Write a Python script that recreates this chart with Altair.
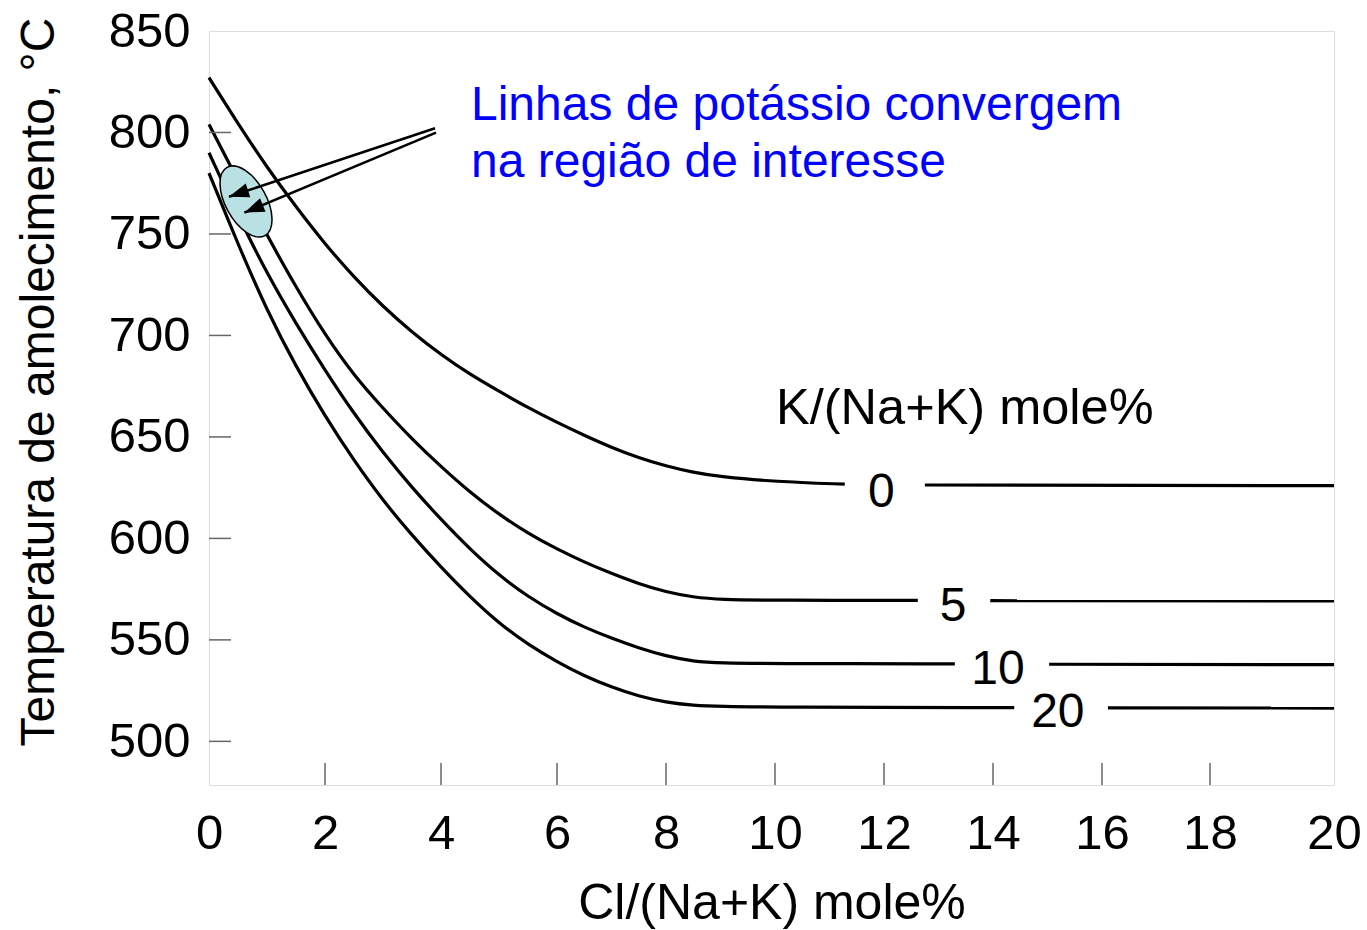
import altair as alt
import pandas as pd

# ---- data ----
x_grid = [0, 0.5, 1, 1.5, 2, 2.5, 3, 3.5, 4, 4.5, 5, 5.5, 6, 6.5, 7, 7.5, 8, 8.5, 9, 10]

k0 = [827, 804.3, 782.8, 763.3, 745.0, 728.7, 714.2, 701.6, 690.5, 680.8, 672.5, 664.4, 657.1, 650.8,
      644.8, 639.7, 635.6, 632.5, 630.3, 628]
k5 = [804, 776.2, 749.4, 723.7, 700.3, 680.2, 664.1, 648.9, 635.3, 622.7, 611.8, 602.5, 594.7, 588.3,
      582.7, 577.6, 573.6, 571.0, 569.8, 569.5]
k10 = [790, 759.1, 730.4, 705.8, 682.8, 661.4, 642.2, 625.0, 609.3, 594.7, 581.8, 571.3, 562.8, 556.2,
       550.8, 546.0, 542.0, 539.4, 538.6, 538.3]
k20 = [780, 744.9, 712.2, 684.6, 660.2, 638.3, 618.6, 601.5, 585.8, 571.2, 558.2, 547.7, 539.2, 532.2,
       526.7, 522.2, 519.2, 517.7, 517.2, 516.8]

series_names = ["0", "5", "10", "20"]
series_values = [k0, k5, k10, k20]
# flat tails: where the line stops before its label, where it resumes, value at x=20
gap_start_x = [11.28, 12.62, 13.30, 14.39]
gap_start_y = [626.7, 569.5, 538.2, 516.6]
gap_end_x = [12.75, 13.95, 15.03, 16.11]
gap_end_y = [626.3, 569.3, 538.0, 516.5]
end_y = [626.0, 569.2, 537.8, 516.4]

label_x = [11.95, 13.27, 14.09, 15.19]
label_y = [615.7, 559.2, 528.1, 507.0]

x_labels = [0, 2, 4, 6, 8, 10, 12, 14, 16, 18, 20]
y_labels = [500, 550, 600, 650, 700, 750, 800, 850]
x_ticks = [2, 4, 6, 8, 10, 12, 14, 16, 18]
y_ticks = [500, 550, 600, 650, 700, 750, 800]

# annotation (ellipse, arrows, notes)
ellipse_x, ellipse_y = [0.638], [766.0]
arrow_x1 = [3.897, 3.914]
arrow_y1 = [802.06, 799.89]
arrow_x2 = [0.345, 0.609]
arrow_y2 = [768.36, 760.48]
arrow_angle = [161.6, 157.4]

note_lines = ["Linhas de potássio convergem", "na região de interesse"]
note_x = [4.517, 4.517]
note_y = [806.2, 778.1]

legend_title = ["K/(Na+K) mole%"]
legend_x = [10.02]
legend_y = [656.6]

# ---- build tables ----
rows = []
for i, name in enumerate(series_names):
    for xv, yv in zip(x_grid, series_values[i]):
        rows.append({"x": xv, "y": yv, "key": name + "_a"})
    rows.append({"x": gap_start_x[i], "y": gap_start_y[i], "key": name + "_a"})
    rows.append({"x": gap_end_x[i], "y": gap_end_y[i], "key": name + "_b"})
    rows.append({"x": 20, "y": end_y[i], "key": name + "_b"})
lines_df = pd.DataFrame(rows)

FONT = "Liberation Sans"
W, H = 1125, 754

# the reference's x axis is drawn with slightly uneven tick spacing
xscale = alt.Scale(
    domain=x_labels,
    range=[0, 116, 232, 348, 457, 566, 675, 784, 893, 1001, 1125],
    nice=False, zero=False,
)
yscale = alt.Scale(domain=[478.5, 850], nice=False, zero=False)

xaxis = alt.Axis(
    values=x_labels, ticks=False, tickSize=0, domain=False, grid=False,
    labelFontSize=49, labelFont=FONT, labelColor="black", labelPadding=24, labelOverlap=False,
    labelFlush=False, title="Cl/(Na+K) mole%", titleFontSize=50, titleFont=FONT, titleColor="black",
    titleFontWeight="normal", titleX=562.5, titleY=133, titleBaseline="alphabetic", titleAlign="center",
)
yaxis = alt.Axis(
    values=y_labels, ticks=False, tickSize=0, domain=False, grid=False,
    labelFontSize=49, labelFont=FONT, labelColor="black", labelPadding=19, labelOverlap=False,
    labelFlush=False, title="Temperatura de amolecimento, °C", titleFontSize=48, titleFont=FONT,
    titleColor="black", titleFontWeight="normal", titleAngle=270, titleX=-156, titleY=350.5,
    titleBaseline="alphabetic", titleAlign="center",
)


def X(field):
    return alt.X(field, type="quantitative", scale=xscale, axis=xaxis)


def Y(field):
    return alt.Y(field, type="quantitative", scale=yscale, axis=yaxis)


lines = alt.Chart(lines_df).mark_line(color="black", strokeWidth=3.2, interpolate="basis").encode(
    x=X("x"), y=Y("y"), detail="key:N", order="x:Q",
)

xt = alt.Chart(pd.DataFrame({"x": x_ticks})).mark_rule(color="#666666", strokeWidth=1.5).encode(
    x=X("x"), y=alt.value(H), y2=alt.value(H - 22)
)
yt = alt.Chart(pd.DataFrame({"y": y_ticks})).mark_rule(color="#666666", strokeWidth=1.5).encode(
    y=Y("y"), x=alt.value(0), x2=alt.value(22)
)

ellipse_path = "M0,-1 A0.523,1 0 1,1 0,1 A0.523,1 0 1,1 0,-1 Z"
ellipse = alt.Chart(pd.DataFrame({"x": ellipse_x, "y": ellipse_y})).mark_point(
    shape=ellipse_path, size=6084, angle=331, filled=True, fill="#b9e0e3", stroke="black",
    strokeWidth=1.5, opacity=1, fillOpacity=1, strokeOpacity=1,
).encode(x=X("x"), y=Y("y"))

arrows_df = pd.DataFrame({"x": arrow_x1, "y": arrow_y1, "x2": arrow_x2, "y2": arrow_y2, "ang": arrow_angle})
arrow_lines = alt.Chart(arrows_df).mark_rule(color="black", strokeWidth=2.5).encode(
    x=X("x"), y=Y("y"), x2="x2:Q", y2="y2:Q",
)
head_path = "M0,0 L-1,-0.36 L-1,0.36 Z"
arrow_heads = alt.Chart(arrows_df).mark_point(
    shape=head_path, size=1600, filled=True, color="black", opacity=1, strokeWidth=0,
).encode(
    x=X("x2"), y=Y("y2"), angle=alt.Angle("ang:Q", scale=None),
)

notes = alt.Chart(pd.DataFrame({"x": note_x, "y": note_y, "t": note_lines})).mark_text(
    align="left", baseline="alphabetic", fontSize=48, font=FONT, color="#0000ff",
).encode(x=X("x"), y=Y("y"), text="t:N")

legend_txt = alt.Chart(pd.DataFrame({"x": legend_x, "y": legend_y, "t": legend_title})).mark_text(
    align="left", baseline="alphabetic", fontSize=50.5, font=FONT, color="black",
).encode(x=X("x"), y=Y("y"), text="t:N")

labels = alt.Chart(pd.DataFrame({"x": label_x, "y": label_y, "t": series_names})).mark_text(
    align="center", baseline="alphabetic", fontSize=48, font=FONT, color="black",
).encode(x=X("x"), y=Y("y"), text="t:N")

chart = alt.layer(
    lines, xt, yt, ellipse, arrow_lines, arrow_heads, notes, legend_txt, labels
).properties(
    width=W, height=H,
    autosize=alt.AutoSizeParams(type="none"),
    padding={"left": 209, "top": 31, "right": 33, "bottom": 145},
).configure_view(
    stroke="#777777", strokeWidth=2,
).configure(font=FONT, background="white")

chart.save("out.html", embed_options={"renderer": "svg", "actions": False})
